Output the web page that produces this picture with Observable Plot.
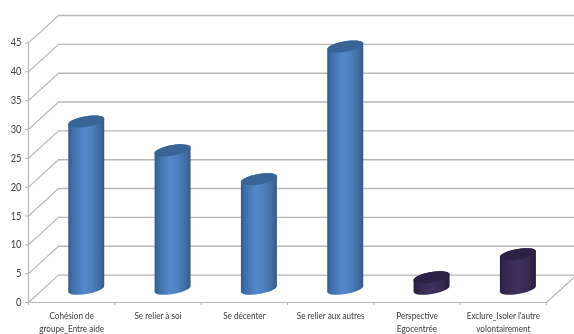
<!DOCTYPE html>
<html>
<head>
<meta charset="utf-8">
<script src="https://cdn.jsdelivr.net/npm/d3@7"></script>
<script src="https://cdn.jsdelivr.net/npm/@observablehq/plot@0.6"></script>
<style>
html,body{margin:0;padding:0;background:#fff;overflow:hidden}
svg{display:block;filter:blur(0.45px)}
</style>
</head>
<body>
<div id="chart"></div>
<script>
const categories = ["Cohésion de\ngroupe_Entre aide","Se relier à soi","Se décenter","Se relier aux autres","Perspective\nEgocentrée","Exclure_Isoler l'autre\nvolontairement"];
const values = [29,24,19,42,2,6];
const groups = ["blue","blue","blue","blue","purple","purple"];
const yTicks = [0,5,10,15,20,25,30,35,40,45];
const xEdges = [0,1,2,3,4,5,6];

// oblique depth of the 3D box, in data units
const depthX = 0.3475, depthY = 4.75;
// cylinder ellipse, in data units
const rx = 0.2085, ry = 0.92, tilt = 0.5;

const centre = i => i + 0.495 + depthX / 2;
const ell = (i, v, deg) => {
  const t = deg * Math.PI / 180;
  return {x: centre(i) + rx * Math.cos(t), y: v + depthY / 2 + tilt * Math.cos(t) + ry * Math.sin(t)};
};
const body = [], top_ = [];
values.forEach((v, i) => {
  for (let d = 180; d <= 360; d += 10) body.push({id: i, g: groups[i], ...ell(i, 0, d)});
  for (let d = 0; d <= 180; d += 10) body.push({id: i, g: groups[i], ...ell(i, v, d)});
  for (let d = 0; d <= 360; d += 10) top_.push({id: i, g: groups[i], ...ell(i, v, d)});
});

function defs() {
  const s = d3.create("svg:defs");
  const add = (id, stops) => {
    const g = s.append("linearGradient").attr("id", id).attr("x1", 0).attr("x2", 1).attr("y1", 0).attr("y2", 0);
    stops.forEach(([o, c]) => g.append("stop").attr("offset", o).attr("stop-color", c));
  };
  add("gBlue", [[0,"#345c8c"],[0.12,"#3f6ea8"],[0.42,"#5488cb"],[0.65,"#4d80c0"],[0.88,"#3f6b9f"],[1,"#345a85"]]);
  add("gPurple", [[0,"#2a1d42"],[0.15,"#36274f"],[0.5,"#40305f"],[0.8,"#38294f"],[1,"#271b3c"]]);
  return s.node();
}

const grey = "#b8b8b8";
const chart = Plot.plot({
  width: 574, height: 334,
  marginLeft: 28, marginRight: -2, marginTop: 15, marginBottom: 32,
  style: {background: "#fff", fontFamily: "Lato, sans-serif"},
  x: {domain: [0, 6 + depthX], axis: null},
  y: {domain: [0, 45 + depthY], axis: null},
  marks: [
    defs,
    Plot.ruleY(yTicks, {y: d => d + depthY, x1: depthX, x2: 6 + depthX, stroke: grey, strokeWidth: 1.4}),
    Plot.link(yTicks, {x1: 0, y1: d => d, x2: depthX, y2: d => d + depthY, stroke: grey, strokeWidth: 1.2}),
    Plot.link([6], {x1: d => d, y1: 0, x2: d => d + depthX, y2: depthY, stroke: grey, strokeWidth: 1.2}),
    Plot.ruleX([0], {y1: 0, y2: 45, stroke: grey, strokeWidth: 1.2}),
    Plot.ruleY([0], {x1: 0, x2: 6, stroke: grey, strokeWidth: 1.2}),
    Plot.axisY({ticks: yTicks, tickSize: 3, tickPadding: 4, label: null, stroke: grey, color: "#404040", fontSize: 11, anchor: "left"}),
    Plot.axisX({ticks: xEdges, tickFormat: () => "", tickSize: 3, label: null, stroke: grey, anchor: "bottom"}),
    Plot.line(body.filter(d => d.g === "blue"), {x: "x", y: "y", z: "id", fill: "url(#gBlue)", stroke: "none"}),
    Plot.line(body.filter(d => d.g === "purple"), {x: "x", y: "y", z: "id", fill: "url(#gPurple)", stroke: "none"}),
    Plot.line(top_.filter(d => d.g === "blue"), {x: "x", y: "y", z: "id", fill: "#386596", stroke: "none"}),
    Plot.line(top_.filter(d => d.g === "purple"), {x: "x", y: "y", z: "id", fill: "#2e2146", stroke: "none"}),
    Plot.text(categories, {x: (d, i) => i + 0.5, y: () => 0, text: d => d, lineAnchor: "top", dy: 8, lineHeight: 1.3, fontSize: 9.6, fill: "#404040"})
  ]
});
// narrow the letterforms, as in the condensed font of the reference
chart.querySelectorAll("text").forEach(t => {
  t.setAttribute("transform", (t.getAttribute("transform") || "") + " scale(0.85,1)");
});
document.getElementById("chart").append(chart);
</script>
</body>
</html>
